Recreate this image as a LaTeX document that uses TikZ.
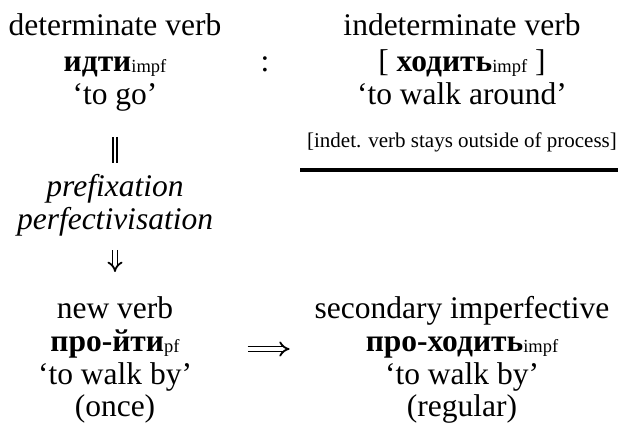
\documentclass[tikz,border=0pt]{standalone}
\usepackage{fontspec}
\setmainfont{Liberation Serif}
\usetikzlibrary{arrows.meta}

\definecolor{ink}{HTML}{000000}

\newcommand{\bigsize}{\fontsize{31.5}{33}\selectfont}
\newcommand{\notesize}{\fontsize{21}{23}\selectfont}
\newcommand{\asp}[1]{\raisebox{-1.5pt}{\fontsize{18.5}{20}\selectfont #1}}

\begin{document}
\begin{tikzpicture}[x=1pt,y=-1pt,font=\bigsize,
  lbl/.style={anchor=base,inner sep=0pt,text=ink},
  eqbar/.style={ink,double,line width=1.8pt,double distance=2.8pt},
  impl/.style={ink,double,line width=1.8pt,double distance=3.2pt,-{Implies}}]
\useasboundingbox (0,0) rectangle (618,436);
\def\lx{115}
\def\rx{462}

% determinate / indeterminate pair
\node[lbl] (detlab) at (\lx,36) {determinate verb};
\node[lbl] (detverb) at (\lx,71) {\textbf{идти}\asp{impf}};
\node[lbl] (detgloss) at (\lx,104) {‘to go’};
\node[lbl] (colon) at (265,71) {:};
\node[lbl] (indlab) at (\rx,36) {indeterminate verb};
\node[lbl] (indverb) at (\rx,71) {[ \textbf{ходить}\asp{impf} ]};
\node[lbl] (indgloss) at (\rx,104) {‘to walk around’};
\node[lbl,font=\notesize] (indnote) at (\rx,147) {[indet. verb stays outside of process]};
\coordinate (ruleL) at (300,170);
\coordinate (ruleR) at (618,170);
\draw[ink,line width=3.8pt] (ruleL) -- (ruleR);

% process
\node[lbl,font=\bigsize\itshape] (prefix) at (\lx,196) {prefixation};
\node[lbl,font=\bigsize\itshape] (perfect) at (\lx,229) {perfectivisation};

% new verb / secondary imperfective
\node[lbl] (newlab) at (\lx,318) {new verb};
\node[lbl] (pfverb) at (\lx,351) {\textbf{про-йти}\asp{pf}};
\node[lbl] (pfgloss) at (\lx,384) {‘to walk by’};
\node[lbl] (pfuse) at (\lx,416) {(once)};
\node[lbl] (silab) at (\rx,318) {secondary imperfective};
\node[lbl] (siverb) at (\rx,351) {\textbf{про-ходить}\asp{impf}};
\node[lbl] (sigloss) at (\rx,384) {‘to walk by’};
\node[lbl] (siuse) at (\rx,416) {(regular)};

\draw[eqbar,shorten <=26pt,shorten >=11pt] (detgloss) -- (prefix);
\draw[impl,shorten <=14pt,shorten >=24pt] (perfect) -- (newlab);
\draw[impl,shorten <=68pt,shorten >=76pt] ([yshift=2pt]pfverb.base east) -- ([yshift=2pt]siverb.base west);
\end{tikzpicture}
\end{document}
